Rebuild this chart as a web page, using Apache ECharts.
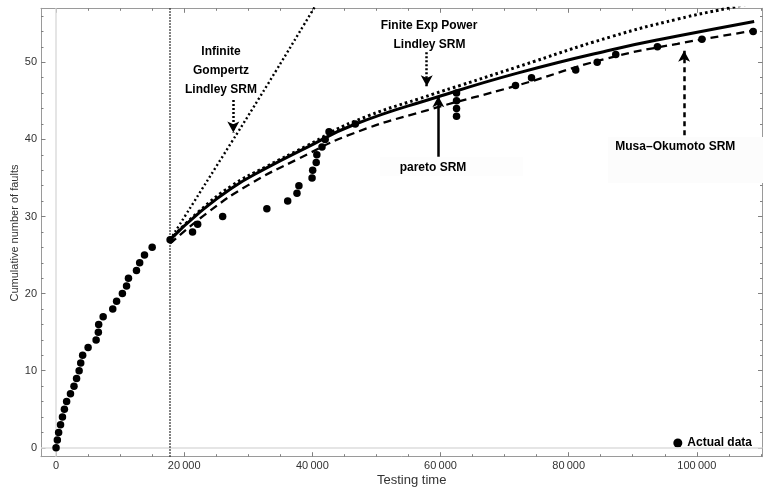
<!DOCTYPE html>
<html>
<head>
<meta charset="utf-8">
<script src="https://cdn.jsdelivr.net/npm/echarts@6/dist/echarts.min.js"></script>
<style>
html,body{margin:0;padding:0;background:#fff;}
#chart{width:765px;height:493px;}
</style>
</head>
<body>
<div id="chart"></div>
<script>
// ---- data ----
const actualTime = [0,200,400,700,1000,1300,1650,2250,2800,3200,3600,3850,4150,5000,6250,6600,6650,7350,8850,9450,10350,11000,11300,12550,13050,13800,15000,17800,21300,22100,26000,32900,36150,37600,37900,39950,40050,40600,40700,41500,42000,42600,46700,62500,62500,62500,62500,71700,74200,81100,84450,87350,93850,100800,108800];
const actualFaults = [0,1,2,3,4,5,6,7,8,9,10,11,12,13,14,15,16,17,18,19,20,21,22,23,24,25,26,27,28,29,30,31,32,33,34,35,36,37,38,39,40,41,42,43,44,45,46,47,48,49,50,51,52,53,54];

const gompertzTime = [17800,26150,33000,39950,42000];
const gompertzFaults = [27.0,38.0,47.1,56.6,59.4];

const finiteTime = [17800,22230,27450,32650,39000,46450,58950,63100,72000,86560,97000,104800,110250];
const finiteFaults = [27.0,30.6,34.0,36.4,39.1,42.3,45.9,47.0,49.4,53.3,55.6,57.0,57.9];

const paretoTime = [17800,22230,27450,32650,39000,46450,59500,72000,86560,97000,108950];
const paretoFaults = [27.0,30.4,33.7,36.2,38.9,41.9,45.5,48.6,51.6,53.4,55.3];

const musaTime = [17800,23800,30050,37860,46450,58000,72000,86000,97000,108950];
const musaFaults = [26.5,30.6,34.1,37.5,40.8,43.8,47.0,50.5,52.4,54.1];

const splitTime = 17800;

const xTickValues = [0,20000,40000,60000,80000,100000];
const xTickLabels = ['0','20\u2009000','40\u2009000','60\u2009000','80\u2009000','100\u2009000'];
const yTickValues = [0,10,20,30,40,50];
const yTickLabels = ['0','10','20','30','40','50'];

// ---- build ----
const X_MIN = -2350, X_MAX = 110250, Y_MIN = -1.15, Y_MAX = 57;
const xMinor = []; for (let v = 5000; v <= X_MAX; v += 5000) if (v % 20000) xMinor.push(v);
const yMinor = []; for (let v = 2; v <= Y_MAX; v += 2) if (v % 10) yMinor.push(v);

const zip = (a, b) => a.map((v, i) => [v, b[i]]);
const frameColor = '#9a9a9a';
const tickColor = '#808080';

function mkAxis(pos, min, max, major, labels, minorVals, isMain) {
  const base = {
    type: 'value', position: pos, min: min, max: max, offset: 0,
    splitLine: {show: false},
    axisLine: {show: true, onZero: false, lineStyle: {color: frameColor, width: 1}},
    axisLabel: {show: false},
    axisPointer: {show: false}
  };
  if (minorVals) {
    base.axisLine.show = false;
    base.axisTick = {show: true, inside: true, length: 2.5, customValues: minorVals, lineStyle: {color: tickColor, width: 1}};
  } else {
    base.axisTick = {show: true, inside: true, length: 4.5, customValues: major, lineStyle: {color: tickColor, width: 1}};
  }
  if (isMain) {
    base.axisLabel = {
      show: true, customValues: major, margin: 4,
      color: '#333', fontSize: 11, fontFamily: 'Liberation Sans, Arial, sans-serif',
      formatter: v => { const i = major.indexOf(v); return i >= 0 ? labels[i] : ''; }
    };
  }
  return base;
}

const xAxes = [
  mkAxis('bottom', X_MIN, X_MAX, xTickValues, xTickLabels, null, true),
  mkAxis('bottom', X_MIN, X_MAX, xTickValues, xTickLabels, xMinor, false),
  mkAxis('top', X_MIN, X_MAX, xTickValues, xTickLabels, null, false),
  mkAxis('top', X_MIN, X_MAX, xTickValues, xTickLabels, xMinor, false)
];
const yAxes = [
  mkAxis('left', Y_MIN, Y_MAX, yTickValues, yTickLabels, null, true),
  mkAxis('left', Y_MIN, Y_MAX, yTickValues, yTickLabels, yMinor, false),
  mkAxis('right', Y_MIN, Y_MAX, yTickValues, yTickLabels, null, false),
  mkAxis('right', Y_MIN, Y_MAX, yTickValues, yTickLabels, yMinor, false)
];

const annFont = 'bold 12px "Liberation Sans", Arial, sans-serif';
const txt = (t, x, y) => ({type: 'text', z: 100, style: {text: t, x: x, y: y, align: 'center', verticalAlign: 'middle', font: annFont, fill: '#000'}});

function arrow(x1, y1, x2, y2, type, width) {
  return [
    {coord: [x1, y1], lineStyle: {type: type, width: width, color: '#000'}},
    {coord: [x2, y2]}
  ];
}

const option = {
  animation: false,
  backgroundColor: '#fff',
  grid: {left: 41, right: 2.5, top: 8.3, bottom: 36.3, containLabel: false},
  xAxis: xAxes,
  yAxis: yAxes,
  legend: {
    data: ['Actual data'], right: 8, top: 432, icon: 'circle', itemWidth: 9, itemHeight: 9, itemGap: 4,
    itemStyle: {opacity: 1, color: '#000'},
    textStyle: {fontWeight: 'bold', fontSize: 12, color: '#000', fontFamily: 'Liberation Sans, Arial, sans-serif'},
    selectedMode: false
  },
  graphic: [
    {type: 'rect', z: 1, shape: {x: 608, y: 137, width: 155, height: 46}, style: {fill: '#fcfcfc'}},
    {type: 'rect', z: 1, shape: {x: 380, y: 157, width: 143, height: 19}, style: {fill: '#fdfdfd'}},
    txt('Infinite', 221, 51.7),
    txt('Gompertz', 221, 70.7),
    txt('Lindley SRM', 221, 89.5),
    txt('Finite Exp Power', 429, 25.5),
    txt('Lindley SRM', 429.5, 44.5),
    txt('pareto SRM', 433, 167.7),
    txt('Musa\u2013Okumoto SRM', 675.3, 146.7),
    {type: 'text', z: 100, style: {text: 'Testing time', x: 411.7, y: 480.7, align: 'center', verticalAlign: 'middle', font: '13px "Liberation Sans", Arial, sans-serif', fill: '#333'}},
    {type: 'text', z: 100, x: 15, y: 233, rotation: Math.PI / 2, style: {text: 'Cumulative number of faults', x: 0, y: 0, align: 'center', verticalAlign: 'middle', font: '11px "Liberation Sans", Arial, sans-serif', fill: '#333'}}
  ],
  series: [
    {
      name: 'helper', type: 'line', data: [], silent: true, z: 1,
      markLine: {
        silent: true, symbol: ['none', 'none'], label: {show: false}, animation: false,
        data: [
          {xAxis: 0, lineStyle: {color: '#dcdcdc', width: 1.5, type: 'solid'}},
          {yAxis: 0, lineStyle: {color: '#dcdcdc', width: 1.5, type: 'solid'}},
          {xAxis: splitTime, lineStyle: {color: '#222', width: 1.5, type: [1.5, 1.5]}}
        ]
      }
    },
    {
      name: 'arrows', type: 'line', data: [], silent: true, z: 6,
      markLine: {
        silent: true, symbol: ['none', 'arrow'], symbolSize: [9, 11], label: {show: false}, animation: false,
        data: [
          arrow(27660, 45.1, 27660, 40.9, [2, 2], 2.5),
          arrow(57850, 51.3, 57850, 46.9, [2, 2], 2.5),
          arrow(59660, 37.75, 59660, 45.6, 'solid', 2.5),
          arrow(98020, 40.55, 98020, 51.5, [5, 4], 2.5)
        ]
      }
    },
    {
      name: 'Infinite Gompertz Lindley SRM', type: 'line', data: zip(gompertzTime, gompertzFaults), smooth: true,
      showSymbol: false, symbol: 'none', z: 3, clip: true,
      lineStyle: {color: '#000', width: 2.4, type: [2, 2.6]}
    },
    {
      name: 'Finite Exp Power Lindley SRM', type: 'line', data: zip(finiteTime, finiteFaults), smooth: true,
      showSymbol: false, symbol: 'none', z: 3, clip: true,
      lineStyle: {color: '#000', width: 3, type: [2.6, 3]}
    },
    {
      name: 'pareto SRM', type: 'line', data: zip(paretoTime, paretoFaults), smooth: true,
      showSymbol: false, symbol: 'none', z: 4, clip: true,
      lineStyle: {color: '#000', width: 3}
    },
    {
      name: 'Musa\u2013Okumoto SRM', type: 'line', data: zip(musaTime, musaFaults), smooth: true,
      showSymbol: false, symbol: 'none', z: 3, clip: true,
      lineStyle: {color: '#000', width: 2.3, type: [8, 5]}
    },
    {
      name: 'Actual data', type: 'scatter', data: zip(actualTime, actualFaults),
      symbol: 'circle', symbolSize: 7.5, itemStyle: {color: '#000', opacity: 1}, z: 5
    }
  ]
};

const chart = echarts.init(document.getElementById('chart'), null, {renderer: 'canvas'});
chart.setOption(option);
</script>
</body>
</html>
